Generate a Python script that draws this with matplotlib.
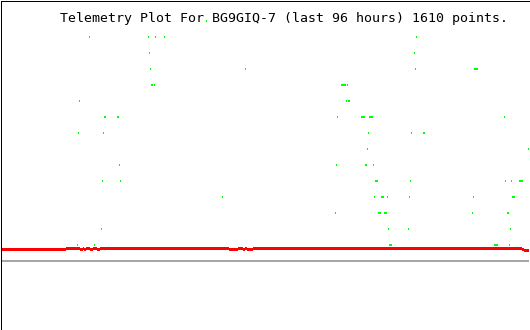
import matplotlib
matplotlib.use("Agg")
import matplotlib.pyplot as plt
from matplotlib.patches import Rectangle

TITLE = "Telemetry Plot For BG9GIQ-7 (last 96 hours) 1610 points."

# Green telemetry samples: (hour, level)
green_hours = [
    37.36,
    16.09, 26.82, 28.09, 29.73, 75.55,
    27.00, 75.18,
    27.18, 44.45, 75.36, 86.09, 86.27, 86.45, 86.64,
    27.36, 27.55, 27.91, 61.91, 62.09, 62.27, 62.45, 62.64, 63.00,
    14.27, 62.82, 63.18, 63.36,
    18.82, 19.00, 21.18, 21.36, 61.18, 65.55, 65.73, 65.91, 66.09,
    67.00, 67.18, 67.36, 67.55, 91.55,
    14.09, 18.64, 66.82, 74.64, 76.82, 77.00,
    66.64, 95.91,
    21.55, 61.00, 66.27, 66.45, 67.73,
    18.45, 21.73, 68.09, 68.27, 68.45, 74.45, 91.73, 92.82,
    94.27, 94.45, 94.64, 94.82,
    40.27, 67.91, 69.18, 69.36, 69.55, 70.27, 74.27, 85.91,
    93.00, 93.18, 93.36,
    60.82, 68.64, 68.82, 69.00, 69.73, 69.91, 70.09, 85.73, 92.09, 92.27,
    18.27, 70.45, 74.09, 92.64,
    13.91, 17.00, 70.64, 70.82, 71.00, 89.73, 89.91, 90.09, 90.27, 92.45,
]
green_levels = (
    [15]
    + [14] * 5
    + [13] * 2
    + [12] * 7
    + [11] * 9
    + [10] * 4
    + [9] * 14
    + [8] * 6
    + [7] * 2
    + [6] * 5
    + [5] * 12
    + [4] * 11
    + [3] * 10
    + [2] * 4
    + [1] * 10
)

# Red telemetry trace (step changes): hour, value
red_hours = [0.00, 11.82, 14.36, 14.91, 15.09, 15.45, 16.18, 16.73, 17.45,
             18.00, 41.45, 43.09, 44.00, 44.36, 44.73, 45.82, 94.73, 95.09, 96.00]
red_values = [0.719, 0.781, 0.719, 0.781, 0.719, 0.781, 0.719, 0.781, 0.719,
              0.781, 0.719, 0.781, 0.719, 0.781, 0.719, 0.781, 0.719, 0.656, 0.656]

baseline_value = 0.0

W, H = 530, 330
PX_Y = 1 / 16.0  # value units per pixel (vertical)
fig = plt.figure(figsize=(W / 100, H / 100), dpi=100)
fig.patch.set_facecolor("white")
ax = fig.add_axes([0, 0, 1, 1])
ax.set_xlim(-1 / 5.5, 529 / 5.5)
ax.set_ylim(-4.3125, 16.3125)
ax.axis("off")

# baseline gray line (2 px thick)
ax.fill_between([0, 96], baseline_value - PX_Y, baseline_value + PX_Y,
                color="#a6a6a6", linewidth=0, antialiased=False)

# red trace (3 px thick band, stepped)
ax.fill_between(red_hours,
                [v - 1.5 * PX_Y for v in red_values],
                [v + 1.5 * PX_Y for v in red_values],
                step="post", color="#ff0000", linewidth=0, antialiased=False)

# green samples as small 1x2 px blocks
ax.bar(green_hours, [2 * PX_Y] * len(green_hours),
       bottom=[lv - PX_Y for lv in green_levels],
       width=1 / 5.5, color="#00ff00", linewidth=0, antialiased=False)

# title
fig.text(60 / W, 1 - 22 / H, TITLE, family="DejaVu Sans Mono", fontsize=9.57,
         color="black", ha="left", va="baseline")

# border
fig.add_artist(Rectangle((0.5 / W, 0.5 / H), 529 / W, 329 / H,
                         transform=fig.transFigure, fill=False,
                         edgecolor="black", lw=0.72, antialiased=False))

fig.savefig("out.png", dpi=100)
